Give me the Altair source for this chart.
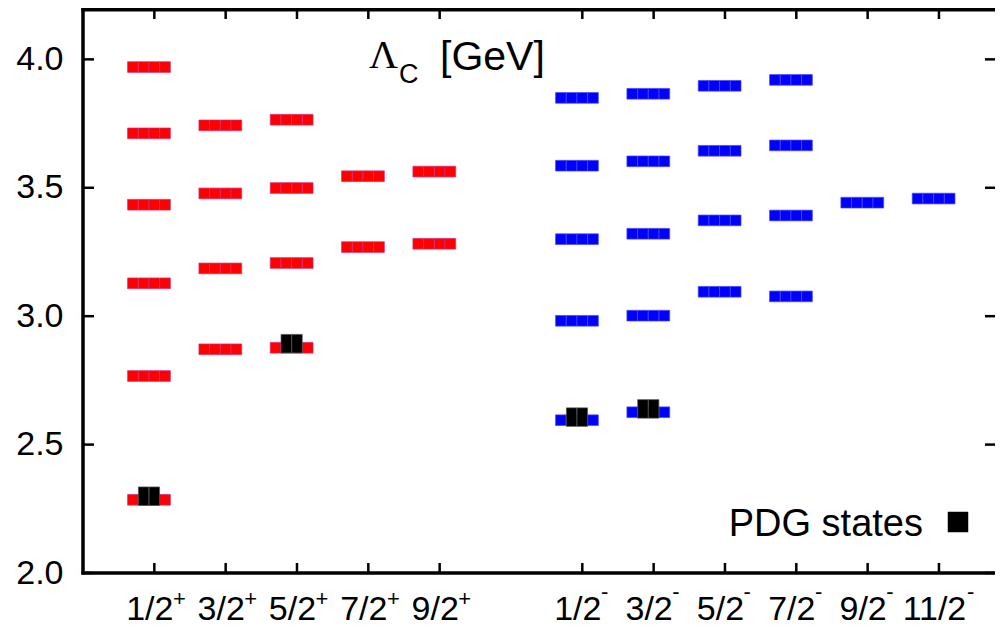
import json
import altair as alt
import pandas as pd

# ---------------- data ----------------
POS_BASE = ["1/2", "3/2", "5/2", "7/2", "9/2"]
POS_X = [1, 2, 3, 4, 5]
POS_MASSES = [
    [3.970, 3.712, 3.434, 3.128, 2.767, 2.285],
    [3.743, 3.478, 3.186, 2.871],
    [3.765, 3.499, 3.207, 2.877],
    [3.545, 3.269],
    [3.563, 3.282],
]

NEG_BASE = ["1/2", "3/2", "5/2", "7/2", "9/2", "11/2"]
NEG_X = [7, 8, 9, 10, 11, 12]
NEG_MASSES = [
    [3.850, 3.586, 3.300, 2.982, 2.595],
    [3.866, 3.603, 3.321, 3.002, 2.626],
    [3.897, 3.644, 3.373, 3.095],
    [3.920, 3.665, 3.392, 3.077],
    [3.442],
    [3.458],
]

PDG_X = [1, 3, 7, 8]
PDG_MASSES = [2.299, 2.893, 2.607, 2.639]

Y_TICKS = [2.0, 2.5, 3.0, 3.5, 4.0]

# ---------------- styling ----------------
W, H = 912, 565
PX_PER_UNIT = 71.33
FONT = "Liberation Sans"
LBL = 34
SUP = 22
LEVEL_SEGS = [-2, -1, 0, 1]   # each level drawn as 4 adjacent squares
PDG_SEGS = [-1, 0]

rows = []
for series, xs, masses in (("pos", POS_X, POS_MASSES), ("neg", NEG_X, NEG_MASSES)):
    for x, ms in zip(xs, masses):
        for m in ms:
            for s in LEVEL_SEGS:
                rows.append({"series": series, "x": x, "mass": m, "seg": s})
levels = pd.DataFrame(rows)

prow = []
for x, m in zip(PDG_X, PDG_MASSES):
    for s in PDG_SEGS:
        prow.append({"x": x, "mass": m, "seg": s})
pdg = pd.DataFrame(prow)

all_x = POS_X + NEG_X
label_arr = [""] * 13
for x, lab in zip(POS_X + NEG_X, POS_BASE + NEG_BASE):
    label_arr[x] = lab
label_expr = json.dumps(label_arr, ensure_ascii=False) + "[round(datum.value)]"

pos_lab = pd.DataFrame({"x": POS_X, "base": POS_BASE, "sup": ["+"] * len(POS_X)})
neg_lab = pd.DataFrame({"x": NEG_X, "base": NEG_BASE, "sup": ["-"] * len(NEG_X)})

xscale = alt.Scale(domain=[0, W / PX_PER_UNIT], nice=False, zero=False)
yscale = alt.Scale(domain=[2.0, 4.2], nice=False, zero=False)
xaxis = alt.Axis(values=all_x, labelExpr=label_expr, grid=False, ticks=False, domain=False,
                 labelPadding=19, labelOffset=-5, labelFontSize=LBL, labelFont=FONT, labelColor="black",
                 labelOverlap=False, labelFlush=False, title=None)
yaxis = alt.Axis(values=Y_TICKS, format=".1f", grid=False, ticks=False, domain=False,
                 labelPadding=20, labelFontSize=LBL, labelFont=FONT, labelColor="black",
                 labelOverlap=False, labelFlush=False, title=None)


def X(f):
    return alt.X(f, scale=xscale, axis=xaxis, title=None)


def Y(f):
    return alt.Y(f, scale=yscale, axis=yaxis, title=None)


one = alt.Data(values=[{}])

level_marks = alt.Chart(levels).transform_calculate(
    xs="datum.x + datum.seg * 0.15"
).mark_tick(orient="horizontal", size=10.7, thickness=10.7, opacity=1, strokeWidth=0.7).encode(
    x=X("xs:Q"),
    y=Y("mass:Q"),
    fill=alt.Fill("series:N", scale=alt.Scale(domain=["pos", "neg"], range=["#ff0000", "#0000ff"]), legend=None),
    stroke=alt.Stroke("series:N", scale=alt.Scale(domain=["pos", "neg"], range=["#d0307a", "#4a4aff"]), legend=None),
)

pdg_marks = alt.Chart(pdg).transform_calculate(
    xs="datum.x + datum.seg * 0.15"
).mark_tick(orient="horizontal", size=10.5, thickness=18.5, opacity=1, color="#000000",
            stroke="#555555", strokeWidth=0.7).encode(
    x=X("xs:Q"),
    y=Y("mass:Q"),
)

# frame (left, top, bottom) - the right side is cut off in the reference
frame_left = alt.Chart(one).mark_rule(color="black", strokeWidth=3.5).encode(
    x=alt.value(0), y=alt.value(0), y2=alt.value(H + 1.5))
frame_top = alt.Chart(one).mark_rule(color="black", strokeWidth=3.5).encode(
    x=alt.value(-1.5), x2=alt.value(W), y=alt.value(1.75))
frame_bottom = alt.Chart(one).mark_rule(color="black", strokeWidth=3.5).encode(
    x=alt.value(-1.5), x2=alt.value(W), y=alt.value(H))

# inward ticks
yt = pd.DataFrame({"v": Y_TICKS})
xt = pd.DataFrame({"p": all_x})
ytick_l = alt.Chart(yt).mark_rule(color="black", strokeWidth=2.5).encode(
    y=Y("v:Q"), x=alt.value(0), x2=alt.value(11))
ytick_r = alt.Chart(yt).mark_rule(color="black", strokeWidth=2.5).encode(
    y=Y("v:Q"), x=alt.value(W - 10), x2=alt.value(W))
xtick_b = alt.Chart(xt).mark_rule(color="black", strokeWidth=2.5).encode(
    x=X("p:Q"), y=alt.value(H), y2=alt.value(H - 10))
xtick_t = alt.Chart(xt).mark_rule(color="black", strokeWidth=2.5).encode(
    x=X("p:Q"), y=alt.value(0), y2=alt.value(11))

# parity superscripts on the x tick labels, placed right after the base text
# (half the base label's advance width, converted from pixels to axis units)
sup_pos = (f"datum.x + (((length(datum.base) - 1) * 0.556 + 0.278) * {LBL} / 2 - 5)"
           f" / {PX_PER_UNIT}")
sup_plus = alt.Chart(pos_lab).transform_calculate(sx=sup_pos).mark_text(
    font=FONT, fontSize=SUP, align="left", baseline="alphabetic", color="black").encode(
    x=X("sx:Q"), y=alt.value(H + 33), text="sup:N")
sup_minus = alt.Chart(neg_lab).transform_calculate(sx=sup_pos).mark_text(
    font=FONT, fontSize=SUP, align="left", baseline="alphabetic", color="black").encode(
    x=X("sx:Q"), y=alt.value(H + 26), text="sup:N")

# title "Λ_C [GeV]"
t_lambda = alt.Chart(one).mark_text(text="Λ", font="Liberation Serif", fontSize=40, align="left",
                                    baseline="alphabetic", color="black").encode(
    x=alt.value(286), y=alt.value(60))
t_c = alt.Chart(one).mark_text(text="C", font=FONT, fontSize=27, align="left",
                               baseline="alphabetic", color="black").encode(
    x=alt.value(316), y=alt.value(75))
t_gev = alt.Chart(one).mark_text(text="[GeV]", font=FONT, fontSize=41, align="left",
                                 baseline="alphabetic", color="black").encode(
    x=alt.value(357), y=alt.value(62))

# key
k_text = alt.Chart(one).mark_text(text="PDG states", font=FONT, fontSize=38, align="right",
                                  baseline="alphabetic", color="black").encode(
    x=alt.value(840), y=alt.value(528))
k_sym = alt.Chart(one).mark_square(size=420, color="black", opacity=1).encode(
    x=alt.value(875), y=alt.value(514))

chart = alt.layer(
    level_marks, pdg_marks,
    frame_left, frame_top, frame_bottom,
    ytick_l, ytick_r, xtick_b, xtick_t,
    sup_plus, sup_minus,
    t_lambda, t_c, t_gev, k_text, k_sym,
).properties(
    width=W, height=H,
    autosize=alt.AutoSizeParams(type="none"),
    padding={"left": 75, "top": 0, "right": 0, "bottom": 54},
    background="white",
).configure_view(stroke=None)

chart.save("out.html", embed_options={"renderer": "svg", "actions": False})
